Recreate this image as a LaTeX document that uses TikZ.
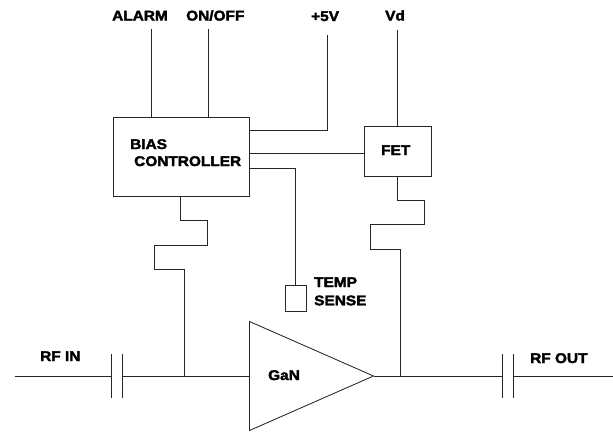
\documentclass[tikz,border=0pt]{standalone}
\usepackage{fontspec}
\setmainfont[BoldFont={Liberation Sans Bold},BoldFeatures={FakeBold=2.4,FakeStretch=1.1}]{Liberation Sans}
\tikzset{
  wire/.style={draw=black!85,line width=0.85pt,line join=miter},
  block/.style={draw=black!85,line width=0.85pt,fill=none,inner sep=0pt,anchor=north west},
  lbl/.style={font=\fontsize{14}{16}\selectfont\bfseries,inner sep=0pt,align=left,text=black},
}
\begin{document}
\begin{tikzpicture}[x=1pt,y=-1pt]
\useasboundingbox (0,0) rectangle (613,431);
\node[block,minimum width=136pt,minimum height=79pt] (bias) at (112.5,117) {};
\node[block,minimum width=67pt,minimum height=49.5pt] (fet) at (363.5,126) {};
\node[block,minimum width=20.5pt,minimum height=26pt] (temp) at (285.3,285.3) {};
\coordinate (amp1) at (249.5,321.5);
\coordinate (amp2) at (373.5,376);
\coordinate (amp3) at (249.5,430.5);
\draw[wire] (amp1) -- (amp2) -- (amp3) -- cycle;
% labels
\node[lbl,anchor=base west] (alarm) at (112,20.5) {ALARM};
\node[lbl,anchor=base west] (onoff) at (186,20.5) {ON/OFF};
\node[lbl,anchor=base west] (five) at (311,21) {+5V};
\node[lbl,anchor=base west] (vd) at (385,20.5) {Vd};
\node[lbl,anchor=base west] (biast) at (130,149) {BIAS};
\node[lbl,anchor=base west] (ctrl) at (134,166) {CONTROLLER};
\node[lbl,anchor=base west] (fett) at (381,155) {FET};
\node[lbl,anchor=base west] (tempa) at (314,287) {TEMP};
\node[lbl,anchor=base west] (tempb) at (314,305.3) {SENSE};
\node[lbl,anchor=base west] (gan) at (268,380) {GaN};
\node[lbl,anchor=base west] (rfin) at (40,361) {RF IN};
\node[lbl,anchor=base west] (rfout) at (530,363) {RF OUT};
% top wires
\coordinate (a0) at (151,29);
\coordinate (o0) at (208.7,29);
\coordinate (f0) at (327,35);
\coordinate (v0) at (397,30);
\coordinate (t0) at (295,168.5);
\draw[wire] (a0) -- (a0 |- bias.north);
\draw[wire] (o0) -- (o0 |- bias.north);
\draw[wire] (f0) -- (327,130) -- (bias.east |- 0,130);
\draw[wire] (v0) -- (v0 |- fet.north);
\draw[wire] (bias.east |- 0,153.5) -- (fet.west |- 0,153.5);
\draw[wire] (bias.east |- t0) -- (t0) -- (t0 |- temp.north);
% RF line
\coordinate (inL) at (14.5,376);
\coordinate (outR) at (613,376);
\coordinate (c1a) at (111.4,376);
\coordinate (c1b) at (122.4,376);
\coordinate (c2a) at (502.3,376);
\coordinate (c2b) at (513,376);
\draw[wire] (inL) -- (c1a);
\draw[wire] (c1b) -- (amp1 |- amp2);
\draw[wire] (amp2) -- (c2a);
\draw[wire] (c2b) -- (outR);
\draw[wire] (111.4,354.3) -- (111.4,398.3);
\draw[wire] (122.4,354.3) -- (122.4,398.3);
\draw[wire] (502.3,354.3) -- (502.3,398.3);
\draw[wire] (513,354.3) -- (513,398.3);
% bias feed
\draw[wire] (180.3,196) -- (180.3,220.7) -- (207,220.7) -- (207,245) -- (154.5,245) -- (154.5,269.7) -- (184,269.7) -- (184,376);
\draw[wire] (397,175.5) -- (397,200) -- (424,200) -- (424,224.7) -- (370.6,224.7) -- (370.6,249) -- (400.7,249) -- (400.7,376);
\end{tikzpicture}
\end{document}
